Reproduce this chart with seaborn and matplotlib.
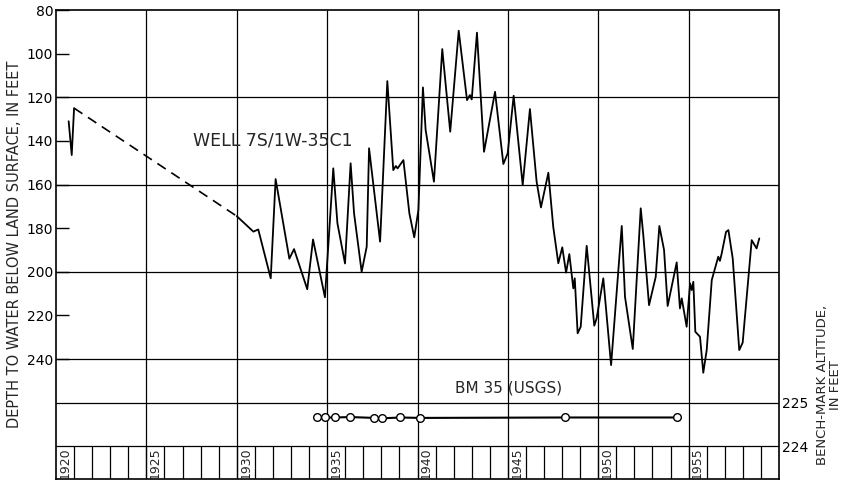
import matplotlib
matplotlib.use("Agg")
import matplotlib.pyplot as plt
import seaborn as sns
import pandas as pd

# ---------------- data ----------------
early_years = [1920.70, 1920.87, 1921.00]
early_depth = [131, 146.5, 125]

gap_years = [1921.00, 1930.00]
gap_depth = [125, 174.5]

main_years = [
    1930.00, 1930.92, 1931.19, 1931.88, 1932.15, 1932.91, 1933.17, 1933.90,
    1934.22, 1934.88, 1935.34, 1935.57, 1935.99, 1936.30, 1936.49, 1936.91,
    1937.19, 1937.32, 1937.93, 1938.33, 1938.66, 1938.80, 1938.90, 1939.22,
    1939.55, 1939.82, 1940.05, 1940.30, 1940.45, 1940.91, 1941.37, 1941.81,
    1942.28, 1942.74, 1942.90, 1943.00, 1943.29, 1943.68, 1944.29, 1944.75,
    1944.99, 1945.32, 1945.82, 1946.22, 1946.59, 1946.83, 1947.24, 1947.51,
    1947.79, 1948.01, 1948.22, 1948.40, 1948.62, 1948.70, 1948.86, 1949.03,
    1949.36, 1949.78, 1949.91, 1950.28, 1950.71, 1951.30, 1951.48, 1951.91,
    1952.35, 1952.49, 1952.81, 1953.18, 1953.38, 1953.64, 1953.84, 1954.34,
    1954.52, 1954.62, 1954.89, 1955.08, 1955.17, 1955.26, 1955.37, 1955.63,
    1955.81, 1956.00, 1956.28, 1956.64, 1956.73, 1956.82, 1957.07, 1957.20,
    1957.44, 1957.80, 1957.99, 1958.49, 1958.76, 1958.91,
]
main_depth = [
    174.5, 181.6, 180.6, 203.0, 157.5, 194.0, 189.6, 208.0,
    185.2, 211.7, 152.6, 177.8, 196.2, 150.3, 173.2, 200.0,
    188.5, 143.4, 186.2, 112.6, 153.4, 151.5, 152.6, 148.8,
    173.2, 184.2, 171.7, 115.5, 135.0, 158.7, 97.9, 135.8,
    89.5, 121.3, 119.0, 121.0, 90.4, 145.0, 117.5, 150.6,
    145.7, 119.3, 160.2, 125.4, 158.7, 170.5, 154.6, 179.4,
    196.1, 188.8, 200.4, 191.9, 207.6, 203.0, 228.2, 225.2,
    188.1, 224.7, 221.4, 203.0, 242.8, 179.0, 211.5, 235.4,
    170.9, 183.0, 215.3, 202.3, 179.0, 190.0, 215.7, 195.7,
    216.8, 212.2, 225.2, 205.3, 208.4, 204.6, 227.5, 229.8,
    246.3, 235.9, 203.8, 193.1, 195.0, 192.0, 181.7, 180.9,
    193.9, 235.9, 232.5, 185.5, 189.3, 184.7,
]

bm_years = [1934.46, 1934.86, 1935.41, 1936.28, 1937.62, 1938.05,
            1939.04, 1940.15, 1948.18, 1954.38]
bm_alt = [224.66, 224.66, 224.66, 224.67, 224.65, 224.64,
          224.66, 224.65, 224.66, 224.66]

depth_ticks = [80, 100, 120, 140, 160, 180, 200, 220, 240]
grid_depths = [120, 160, 200, 240, 260, 280]
grid_years = [1925, 1930, 1935, 1940, 1945, 1950, 1955]
year_labels = [1920, 1925, 1930, 1935, 1940, 1945, 1950, 1955]
bm_ticks = [224, 225]

# ---------------- plot ----------------
sns.set_style("white")
plt.rcParams['font.family'] = ['DejaVu Sans']

fig = plt.figure(figsize=(8.43, 4.82), dpi=100)
ax = fig.add_axes([56 / 843, 3 / 482, 723 / 843, 469 / 482])
ax.set_xlim(1920, 1960)
ax.set_ylim(295, 80)

lw_grid = 0.9
ax.hlines(grid_depths, 1920, 1960, color="black", lw=lw_grid, zorder=1)
ax.vlines(grid_years, 80, 295, color="black", lw=lw_grid, zorder=1)
ax.vlines(list(range(1921, 1960)), 280, 295, color="black", lw=lw_grid, zorder=1)
for yr in year_labels:
    ax.text(yr + 0.5, 287.6, str(yr), rotation=90, ha="center", va="center",
            fontsize=9, zorder=3)

df_early = pd.DataFrame({"year": early_years, "depth": early_depth})
df_gap = pd.DataFrame({"year": gap_years, "depth": gap_depth})
df_main = pd.DataFrame({"year": main_years, "depth": main_depth})

sns.lineplot(data=df_early, x="year", y="depth", sort=False, estimator=None,
             color="black", lw=1.3, ax=ax, zorder=4)
sns.lineplot(data=df_gap, x="year", y="depth", sort=False, estimator=None,
             color="black", lw=1.2, ax=ax, zorder=4, linestyle=(0, (6, 4)))
sns.lineplot(data=df_main, x="year", y="depth", sort=False, estimator=None,
             color="black", lw=1.3, ax=ax, zorder=4)

ax.set_yticks(depth_ticks)
ax.set_yticklabels([str(t) for t in depth_ticks])
ax.set_xticks([])
ax.tick_params(axis="y", direction="in", length=9, width=1, left=True,
               right=True, labelsize=10, pad=2, colors="black")
ax.set_xlabel("")
ax.set_ylabel("DEPTH TO WATER BELOW LAND SURFACE, IN FEET", fontsize=10.5)
ax.yaxis.set_label_coords((22 - 56) / 723, 0.5)
for s in ax.spines.values():
    s.set_color("black")
    s.set_linewidth(1.2)

ax.text(1927.58, 139.6, "WELL 7S/1W-35C1", fontsize=12.5, ha="left", va="center")
ax.text(1942.07, 253.3, "BM 35 (USGS)", fontsize=11, ha="left", va="center")

ax2 = ax.twinx()
ax2.set_ylim(223.25, 234)
df_bm = pd.DataFrame({"year": bm_years, "alt": bm_alt})
sns.lineplot(data=df_bm, x="year", y="alt", sort=False, estimator=None,
             color="black", lw=1.5, marker="o", markersize=5.5,
             markerfacecolor="white", markeredgecolor="black",
             markeredgewidth=1.0, ax=ax2, zorder=5)
ax2.set_xlim(1920, 1960)
ax2.set_yticks(bm_ticks)
ax2.set_yticklabels([str(t) for t in bm_ticks])
ax2.tick_params(axis="y", length=0, labelsize=10, pad=2, colors="black")
ax2.set_xlabel("")
ax2.set_ylabel("BENCH-MARK ALTITUDE,\nIN FEET", fontsize=9.5,
               multialignment="center", linespacing=1.0)
ax2.yaxis.set_label_coords((816 - 56) / 723, (482 - 385 - 3) / 469)
for s in ax2.spines.values():
    s.set_visible(False)

fig.savefig("out.png", dpi=100)
